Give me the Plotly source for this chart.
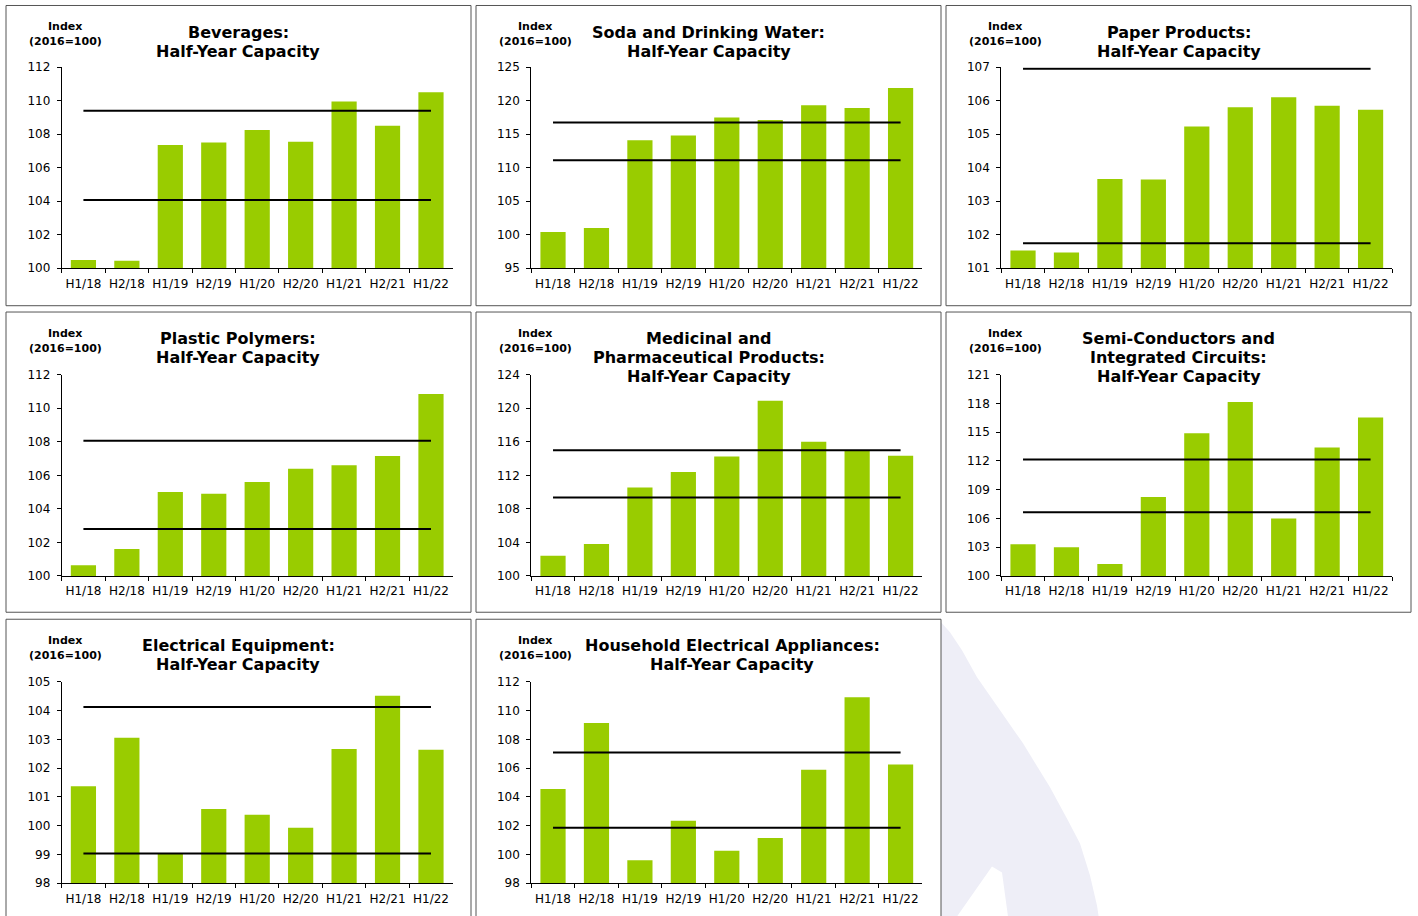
import plotly.graph_objects as go

# ---------------- data ----------------
categories = ["H1/18", "H2/18", "H1/19", "H2/19", "H1/20", "H2/20", "H1/21", "H2/21", "H1/22"]

titles = [
    ["Beverages:", "Half-Year Capacity"],
    ["Soda and Drinking Water:", "Half-Year Capacity"],
    ["Paper Products:", "Half-Year Capacity"],
    ["Plastic Polymers:", "Half-Year Capacity"],
    ["Medicinal and", "Pharmaceutical Products:", "Half-Year Capacity"],
    ["Semi-Conductors and", "Integrated Circuits:", "Half-Year Capacity"],
    ["Electrical Equipment:", "Half-Year Capacity"],
    ["Household Electrical Appliances:", "Half-Year Capacity"],
]

beverages = [100.5, 100.45, 107.35, 107.5, 108.25, 107.55, 109.95, 108.5, 110.5]
soda_water = [100.4, 101.0, 114.1, 114.8, 117.5, 117.1, 119.3, 118.9, 121.9]
paper = [101.53, 101.47, 103.66, 103.65, 105.23, 105.8, 106.1, 105.85, 105.73]
plastics = [100.64, 101.6, 105.0, 104.9, 105.6, 106.4, 106.6, 107.15, 110.85]
medicinal = [102.4, 103.8, 110.55, 112.4, 114.25, 120.9, 116.0, 114.95, 114.35]
semiconductors = [103.3, 103.0, 101.25, 108.25, 114.9, 118.15, 106.0, 113.4, 116.55]
electrical = [101.37, 103.06, 99.02, 100.58, 100.38, 99.93, 102.67, 104.52, 102.64]
household = [104.55, 109.15, 99.6, 102.35, 100.25, 101.15, 105.9, 110.93, 106.25]

series = [beverages, soda_water, paper, plastics, medicinal, semiconductors, electrical, household]

upper_line = [109.4, 116.75, 106.95, 108.07, 115.0, 112.15, 104.13, 107.1]
lower_line = [104.07, 111.1, 101.75, 102.8, 109.37, 106.65, 99.03, 101.86]

y_min = [100, 95, 101, 100, 100, 100, 98, 98]
y_max = [112, 125, 107, 112, 124, 121, 105, 112]
y_step = [2, 5, 1, 2, 4, 3, 1, 2]

index_label = ["Index", "(2016=100)"]

# ---------------- layout helpers ----------------
W, H = 1418, 916
BAR_COLOR = "#99CC00"
# the rendered page shows the figure slightly compressed vertically; compensate
SY, OY = 0.984, 7.2


def px(x):
    return x / W


def py(y):
    return 1 - ((y - OY) / SY) / H


box_left = [6, 476, 946]
box_top = [5.7, 312, 619]
box_w, box_h = 465, 300
plot_left = [61.7, 531.3, 1001.3]
plot_top = [67.3, 374.7, 681.7]
plot_w, plot_h = 391, 201
title_center_override = {7: 732}

fig = go.Figure()
shapes = []
annotations = []

# faint watermark in the empty cell (drawn first, below panels)
wm_pts = [(941, 622), (950, 632), (962, 650), (977, 677), (1000, 710), (1023, 743),
          (1050, 787), (1068, 820), (1080, 843), (1090, 875), (1097, 905), (1100, 925),
          (1010, 925), (1008, 916), (1002, 872), (992, 866), (957, 916), (950, 925),
          (941, 925)]
path = "M " + " L ".join(f"{px(x):.5f},{py(y):.5f}" for x, y in wm_pts) + " Z"
shapes.append(dict(type="path", xref="paper", yref="paper", path=path,
                   fillcolor="#EEEEF7", line=dict(width=0), layer="below"))

for i in range(8):
    r, c = divmod(i, 3)
    n = "" if i == 0 else str(i + 1)
    xa, ya = "x" + n, "y" + n

    # panel box
    shapes.append(dict(type="rect", xref="paper", yref="paper",
                       x0=px(box_left[c]), x1=px(box_left[c] + box_w),
                       y0=py(box_top[r] + box_h), y1=py(box_top[r]),
                       line=dict(color="#555555", width=1), fillcolor="white", layer="below"))

    fig.add_trace(go.Bar(x=categories, y=series[i], marker=dict(color=BAR_COLOR, line=dict(width=0)),
                         xaxis=xa, yaxis=ya, hoverinfo="x+y"))
    for lv in (upper_line[i], lower_line[i]):
        fig.add_trace(go.Scatter(x=[categories[0], categories[-1]], y=[lv, lv], mode="lines",
                                 line=dict(color="black", width=2), xaxis=xa, yaxis=ya,
                                 hoverinfo="y"))

    xdom = [px(plot_left[c]), px(plot_left[c] + plot_w)]
    ydom = [py(plot_top[r] + plot_h), py(plot_top[r])]
    fig.layout["xaxis" + n] = dict(
        domain=xdom, anchor=ya, type="category", range=[-0.5, 8.5],
        showline=True, linecolor="black", linewidth=1, ticks="outside", ticklen=4,
        tickcolor="black", tickson="boundaries", showgrid=False, zeroline=False, tickangle=0,
        ticklabelstandoff=4,
        tickfont=dict(family="DejaVu Sans", size=12, color="black"), fixedrange=True)
    fig.layout["yaxis" + n] = dict(
        domain=ydom, anchor=xa, range=[y_min[i], y_max[i]], tick0=y_min[i], dtick=y_step[i],
        showline=True, linecolor="black", linewidth=1, ticks="outside", ticklen=4,
        tickcolor="black", showgrid=False, zeroline=False, ticklabelstandoff=4,
        tickfont=dict(family="DejaVu Sans", size=12, color="black"), fixedrange=True)

    # Index label
    for k, t in enumerate(index_label):
        annotations.append(dict(xref="paper", yref="paper", x=px(box_left[c] + 59),
                                y=py(box_top[r] + 21 + 15.3 * k), text=t, showarrow=False,
                                xanchor="center", yanchor="middle",
                                font=dict(family="DejaVu Sans", size=11, color="black", weight="bold")))
    # Title lines
    tc = title_center_override.get(i, box_left[c] + box_w / 2)
    for k, t in enumerate(titles[i]):
        annotations.append(dict(xref="paper", yref="paper", x=px(tc),
                                y=py(box_top[r] + 26.5 + 19 * k), text=t, showarrow=False,
                                xanchor="center", yanchor="middle",
                                font=dict(family="DejaVu Sans", size=16, color="black", weight="bold")))

fig.update_layout(
    width=W, height=H, margin=dict(l=0, r=0, t=0, b=0, pad=0),
    showlegend=False, bargap=0.42,
    plot_bgcolor="rgba(0,0,0,0)", paper_bgcolor="white",
    font=dict(family="DejaVu Sans", size=12, color="black"),
    shapes=shapes, annotations=annotations,
)

fig.write_html(
    "out.html", config={"displayModeBar": False},
    post_script=(
        "document.body.style.margin='0';"
        "document.body.style.overflow='hidden';"
        "document.documentElement.style.overflow='hidden';"
    ),
)
